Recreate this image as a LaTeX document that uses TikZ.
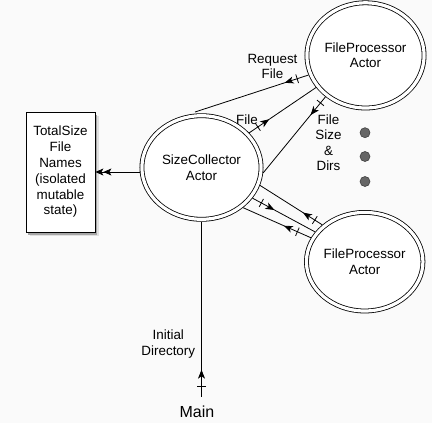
\documentclass[tikz,border=0pt]{standalone}
\usepackage{fontspec}
\setmainfont{Liberation Sans}
\usetikzlibrary{arrows.meta,decorations.markings,shapes.geometric}
\begin{document}
\begin{tikzpicture}[x=1pt,y=-1pt,
  txt/.style={font=\fontsize{13.4}{15.5}\selectfont, align=center, inner sep=0pt},
  actor/.style={ellipse, draw, double, double distance=3.2pt, line width=0.8pt,
    inner sep=0pt, outer sep=2.4pt, font=\fontsize{13.4}{15.5}\selectfont, align=center},
  statebox/.style={draw, line width=0.8pt, fill=white, minimum width=69pt, minimum height=120pt,
    inner sep=0pt, font=\fontsize{13.4}{15.8}\selectfont, align=center,
    preaction={draw=none, fill=black!12, transform canvas={xshift=3.5pt, yshift=-4pt}},
    preaction={draw=none, fill=black!35, transform canvas={xshift=2pt, yshift=-2.5pt}}},
  dot/.style={circle, minimum size=10pt, inner sep=0pt, fill=black!60, draw=black!75, line width=0.6pt},
  msg/.style={line width=0.8pt},
  tickat/.style={postaction={decorate, decoration={markings,
    mark=at position #1 with {\draw[line width=0.8pt] (0pt,-4.5pt) -- (0pt,4.5pt);}}}},
  tipat/.style={postaction={decorate, decoration={markings,
    mark=at position #1 with {\arrow{Stealth[length=9pt,width=7pt,inset=2.5pt]}}}}},
]
\fill[white!98!black] (0,0) rectangle (432,423);
\useasboundingbox (0,0) rectangle (432,423);

% actors
\node[actor, fill=white, minimum width=117.2pt, minimum height=105.2pt] (fp1) at (365.5,55.4) {FileProcessor\\Actor};
\node[actor, fill=white, minimum width=119.2pt, minimum height=103.6pt] (sc) at (201.5,167.5) {SizeCollector\\Actor};
\node[actor, fill=white, minimum width=116.5pt, minimum height=98.6pt] (fp2) at (364.7,261.7) {FileProcessor\\Actor};

% state box
\node[statebox] (box) at (60.5,172) {TotalSize\\File\\Names\\(isolated\\mutable\\state)};

% main
\node[inner sep=0pt, outer ysep=9pt, font=\fontsize{16}{18}\selectfont] (main) at (197,411.7) {Main};

% dots
\node[dot] (d1) at (365,132.7) {};
\node[dot] (d2) at (365,156.5) {};
\node[dot] (d3) at (365,181.5) {};

% labels
\node[txt] (lrf) at (272.5,66.7) {Request\\File};
\node[txt] (lf) at (247,120) {File};
\node[txt] (lfsd) at (328.5,142.7) {File\\Size\\\&\\Dirs};
\node[txt] (lid) at (168.3,344) {Initial\\Directory};

% connectors
\coordinate (rfend) at (195,112);
\draw[msg, tickat=0.1, tipat=0.21] (fp1.-161) -- (rfend);
\draw[msg, tickat=0.13, tipat=0.3] (sc.36) -- (fp1.-147);
\draw[msg, tickat=0.08, tipat=0.24] (fp1.-134) -- (sc.-5);
\draw[msg, tickat=0.12, tipat=0.31] (fp2.139) -- (sc.-17);
\draw[msg, tickat=0.14, tipat=0.35] (sc.-31) -- (fp2.149);
\draw[msg, tickat=0.2, tipat=0.4] (fp2.156) -- (sc.-44);
\draw[msg, tickat=0.057, tipat=0.155] (main.north -| sc.south) -- (sc.south);
\draw[msg, -{Stealth[length=8pt,width=7pt,inset=2pt]Stealth[length=8pt,width=7pt,inset=2pt]}]
  (sc.west |- box.east) -- (box.east);
\end{tikzpicture}
\end{document}
